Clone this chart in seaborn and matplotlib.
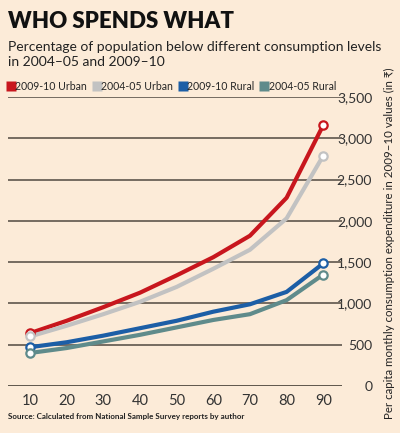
import pandas as pd
import seaborn as sns
import matplotlib.pyplot as plt
from matplotlib.lines import Line2D

# --- dados ---
percentis = [10, 20, 30, 40, 50, 60, 70, 80, 90]
urbano_0910 = [640, 790, 955, 1130, 1340, 1560, 1820, 2280, 3160]
urbano_0405 = [600, 730, 870, 1020, 1200, 1420, 1650, 2030, 2790]
rural_0910 = [470, 530, 610, 700, 790, 900, 990, 1140, 1485]
rural_0405 = [400, 460, 540, 620, 710, 800, 870, 1040, 1350]

series = ['2009-10 Urban', '2004-05 Urban', '2009-10 Rural', '2004-05 Rural']
cores = ['#c8161d', '#c2c2c2', '#1c5ea6', '#5f8b8b']
y_ticks = [0, 500, 1000, 1500, 2000, 2500, 3000, 3500]

fundo = '#fcebd8'
grade = '#5e564c'

dados = pd.DataFrame({
    'pct': percentis * 4,
    'valor': urbano_0910 + urbano_0405 + rural_0910 + rural_0405,
    'serie': [s for s in series for _ in percentis],
})

sns.set_style('white')
plt.rcParams['font.family'] = ['Lato', 'DejaVu Sans']

fig = plt.figure(figsize=(4, 4.33), dpi=100, facecolor=fundo)
ax = fig.add_axes([0.02, 0.1085, 0.834, 0.6675])
ax.set_facecolor(fundo)

# linhas de grade horizontais
for v in y_ticks[1:]:
    ax.axhline(v, color=grade, lw=1.2, zorder=1)
ax.axhline(0, color=grade, lw=1.4, zorder=1)

sns.lineplot(data=dados, x='pct', y='valor', hue='serie', hue_order=series,
             palette=cores, linewidth=3.0, legend=False, ax=ax, zorder=3)

# marcadores abertos no primeiro e último ponto
extremos = dados[dados['pct'].isin([percentis[0], percentis[-1]])]
for s, c in zip(series, cores):
    sub = extremos[extremos['serie'] == s]
    ax.scatter(sub['pct'], sub['valor'], s=36, facecolor='white',
               edgecolor=c, linewidth=1.6, zorder=4)

ax.set_xlim(4, 95)
ax.set_ylim(0, 3500)
for sp in ax.spines.values():
    sp.set_visible(False)

ax.set_xticks(percentis)
ax.set_xticks([5, 15, 25, 35, 45, 55, 65, 75, 85, 95], minor=True)
ax.tick_params(axis='x', which='major', length=0, pad=6, labelsize=10.5, labelcolor='#333333')
ax.tick_params(axis='x', which='minor', length=4, width=1.2, color=grade, direction='in')

ax.yaxis.tick_right()
ax.set_yticks(y_ticks)
ax.set_yticklabels([f'{v:,}' for v in y_ticks])
ax.tick_params(axis='y', length=0, pad=22, labelsize=10, labelcolor='#333333')
for t in ax.get_yticklabels():
    t.set_horizontalalignment('right')

ax.set_xlabel('')
ax.set_ylabel('')

fig.text(0.9725, 0.439, 'Per capita monthly consumption expenditure in 2009\u201310 values (in \u20b9)',
         rotation=90, ha='center', va='center', fontsize=8.3, color='#222222')

# título e subtítulo
fig.text(0.02, 0.975, 'WHO SPENDS WHAT', fontsize=16, fontweight='heavy',
         va='top', color='#111111')
fig.text(0.02, 0.905, 'Percentage of population below different consumption levels\nin 2004\u201305 and 2009\u201310',
         fontsize=10, va='top', color='#222222', linespacing=1.3)

# legenda
handles = [Line2D([0], [0], marker='s', color='none', markerfacecolor=c,
                  markeredgecolor='none', markersize=6.5) for c in cores]
fig.legend(handles, series, loc='center left', bbox_to_anchor=(0.0, 0.8),
           ncol=4, frameon=False, fontsize=7.6, handlelength=0.6,
           handletextpad=0.15, columnspacing=0.6, borderpad=0.2)

fig.text(0.02, 0.033, 'Source: Calculated from National Sample Survey reports by author',
         fontsize=5.8, fontweight='bold', color='#222222')

fig.savefig('out.png', dpi=100, facecolor=fundo)
